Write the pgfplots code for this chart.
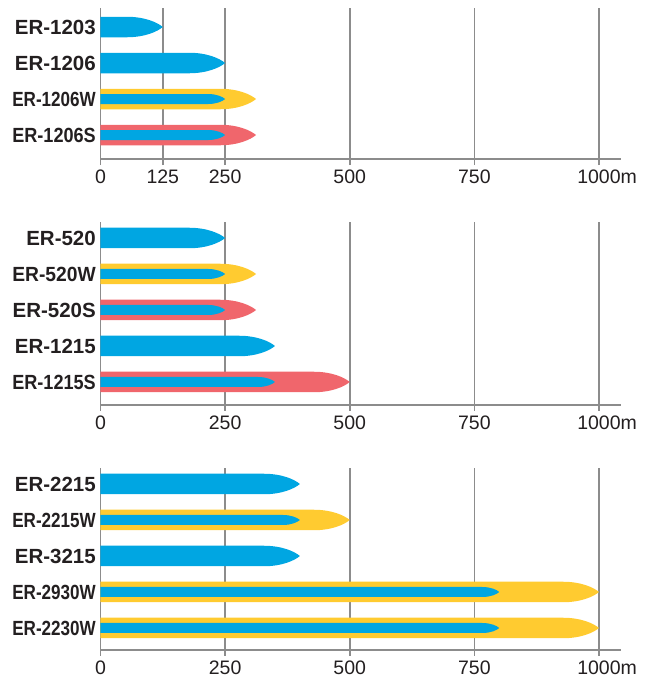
\documentclass[border=0pt]{standalone}
\usepackage{pgfplots}
\pgfplotsset{compat=1.18}
\usepackage{graphicx}
\usepackage{fontspec}
\setmainfont{Liberation Sans}
\definecolor{cblue}{RGB}{0,166,226}
\definecolor{cyel}{RGB}{255,203,48}
\definecolor{cred}{RGB}{240,102,108}
\definecolor{gridc}{RGB}{140,140,140}
\definecolor{textc}{RGB}{35,31,32}
\newcommand\xu{0.4985}
% outer bullet: tip length 36pt, half height 10.25pt
\pgfdeclareplotmark{bulletO}{%
  \pgfmathsetmacro\bl{\barv*\xu}%
  \pgfpathmoveto{\pgfqpoint{-\bl pt}{-10.25pt}}%
  \pgfpathlineto{\pgfqpoint{-36pt}{-10.25pt}}%
  \pgfpathcurveto{\pgfqpoint{-18pt}{-10.25pt}}{\pgfqpoint{-5.4pt}{-4.6pt}}{\pgfqpoint{0pt}{0pt}}%
  \pgfpathcurveto{\pgfqpoint{-5.4pt}{4.6pt}}{\pgfqpoint{-18pt}{10.25pt}}{\pgfqpoint{-36pt}{10.25pt}}%
  \pgfpathlineto{\pgfqpoint{-\bl pt}{10.25pt}}%
  \pgfpathclose
  \pgfusepathqfill
}
% inner bullet: tip length 17pt, half height 5pt
\pgfdeclareplotmark{bulletI}{%
  \pgfmathsetmacro\bl{\barv*\xu}%
  \pgfpathmoveto{\pgfqpoint{-\bl pt}{-5pt}}%
  \pgfpathlineto{\pgfqpoint{-17pt}{-5pt}}%
  \pgfpathcurveto{\pgfqpoint{-8.5pt}{-5pt}}{\pgfqpoint{-2.5pt}{-2.25pt}}{\pgfqpoint{0pt}{0pt}}%
  \pgfpathcurveto{\pgfqpoint{-2.5pt}{2.25pt}}{\pgfqpoint{-8.5pt}{5pt}}{\pgfqpoint{-17pt}{5pt}}%
  \pgfpathlineto{\pgfqpoint{-\bl pt}{5pt}}%
  \pgfpathclose
  \pgfusepathqfill
}
\newsavebox\labbox
\newcommand\lab[1]{\sbox\labbox{\fontsize{20.5}{20.5}\selectfont\bfseries #1}%
  \ifdim\wd\labbox>84pt\relax\resizebox{83.5pt}{\height}{\usebox\labbox}\else\usebox\labbox\fi}
\pgfplotsset{
  bulletaxis/.style={
    x=\xu pt, y=36pt, y dir=reverse,
    xmin=0, xmax=1044,
    anchor=north west,
    axis x line*=bottom, axis y line*=left,
    axis line style={gridc, line width=1.5pt, -},
    xmajorgrids, grid style={gridc, line width=1.5pt},
    major tick length=6pt, tick align=outside,
    xtick style={gridc, line width=1.5pt},
    ytick style={draw=none},
    xticklabel style={font=\fontsize{19.5}{19.5}\selectfont, text=textc, anchor=north, inner sep=0pt, yshift=-4.5pt},
    yticklabel style={text=textc, anchor=east, inner sep=0pt, xshift=1.5pt},
  },
  bO/.style={only marks, mark=bulletO, color=#1, mark options={fill=#1, draw=none},
    visualization depends on={\thisrow{v} \as \barv}},
  bI/.style={only marks, mark=bulletI, color=cblue, mark options={fill=cblue, draw=none},
    visualization depends on={\thisrow{v} \as \barv}},
}
\begin{document}
\begin{tikzpicture}
\useasboundingbox (0,0) rectangle (659pt,-678pt);
% Panel 1
\begin{axis}[bulletaxis, at={(100.5pt,-8pt)}, ymin=0.472, ymax=4.667,
  xtick={0,125,250,500,750,1000}, xticklabels={0,125,250,500,750,1000\rlap{m}},
  ytick={1,2,3,4}, yticklabels={\lab{ER-1203},\lab{ER-1206},\lab{ER-1206W},\lab{ER-1206S}}]
\addplot[bO=cblue] table[x=v,y=y] {
y v
1 125
2 250
};
\addplot[bO=cyel] table[x=v,y=y] {
y v
3 312
};
\addplot[bO=cred] table[x=v,y=y] {
y v
4 312
};
\addplot[bI] table[x=v,y=y] {
y v
3 250
4 250
};
\end{axis}
% Panel 2
\begin{axis}[bulletaxis, at={(100.5pt,-222pt)}, ymin=0.556, ymax=5.639,
  xtick={0,250,500,750,1000}, xticklabels={0,250,500,750,1000\rlap{m}},
  ytick={1,2,3,4,5}, yticklabels={\lab{ER-520},\lab{ER-520W},\lab{ER-520S},\lab{ER-1215},\lab{ER-1215S}}]
\addplot[bO=cblue] table[x=v,y=y] {
y v
1 250
4 350
};
\addplot[bO=cyel] table[x=v,y=y] {
y v
2 312
};
\addplot[bO=cred] table[x=v,y=y] {
y v
3 312
5 500
};
\addplot[bI] table[x=v,y=y] {
y v
2 250
3 250
5 350
};
\end{axis}
% Panel 3
\begin{axis}[bulletaxis, at={(100.5pt,-468pt)}, ymin=0.556, ymax=5.611,
  xtick={0,250,500,750,1000}, xticklabels={0,250,500,750,1000\rlap{m}},
  ytick={1,2,3,4,5}, yticklabels={\lab{ER-2215},\lab{ER-2215W},\lab{ER-3215},\lab{ER-2930W},\lab{ER-2230W}}]
\addplot[bO=cblue] table[x=v,y=y] {
y v
1 400
3 400
};
\addplot[bO=cyel] table[x=v,y=y] {
y v
2 500
4 1000
5 1000
};
\addplot[bI] table[x=v,y=y] {
y v
2 400
4 800
5 800
};
\end{axis}
\end{tikzpicture}
\end{document}
